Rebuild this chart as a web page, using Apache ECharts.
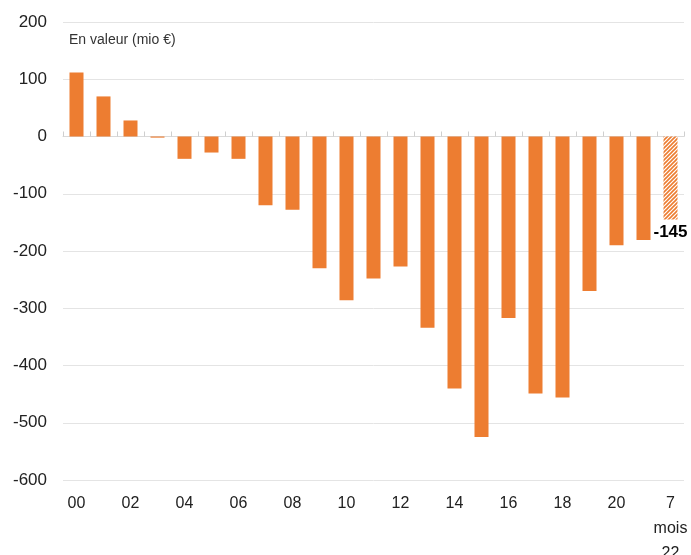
<!DOCTYPE html>
<html>
<head>
<meta charset="utf-8">
<script src="https://cdn.jsdelivr.net/npm/echarts@6/dist/echarts.min.js"></script>
<style>
  html, body { margin: 0; padding: 0; background: #fff; }
  #main { width: 691px; height: 555px; }
</style>
</head>
<body>
<div id="main"></div>
<script>
// années 2000 .. 2021, puis 7 mois 2022
var categories = ['00','01','02','03','04','05','06','07','08','09','10',
  '11','12','13','14','15','16','17','18','19','20','21','7\nmois\n22'];
var values = [112, 70, 28, -2, -39, -28, -39, -120, -128, -230, -286,
  -248, -227, -334, -440, -525, -317, -449, -456, -270, -190, -181, -145];
var yTicks = { min: -600, max: 200, step: 100 };
var unitLabel = 'En valeur (mio €)';

var orange = '#ED7D31';

// motif hachuré pour la dernière barre (7 mois 2022)
function hatch() {
  var c = document.createElement('canvas');
  c.width = 4; c.height = 4;
  var ctx = c.getContext('2d');
  ctx.fillStyle = '#fff';
  ctx.fillRect(0, 0, 4, 4);
  ctx.strokeStyle = orange;
  ctx.lineWidth = 1.6;
  ctx.beginPath();
  ctx.moveTo(-1, 5); ctx.lineTo(5, -1);
  ctx.moveTo(-1, 1); ctx.lineTo(1, -1);
  ctx.moveTo(3, 5); ctx.lineTo(5, 3);
  ctx.stroke();
  return c;
}

var last = values.length - 1;
var barData = values.map(function (v, i) {
  if (i !== last) return v;
  return {
    value: v,
    itemStyle: { color: { image: hatch(), repeat: 'repeat' } },
    label: {
      show: true,
      position: 'bottom',
      distance: 4,
      formatter: '{c}',
      color: '#000',
      fontWeight: 'bold',
      fontSize: 17,
      fontFamily: 'Liberation Sans'
    }
  };
});

var chart = echarts.init(document.getElementById('main'));
chart.setOption({
  animation: false,
  textStyle: { fontFamily: 'Liberation Sans' },
  title: {
    text: unitLabel,
    left: 64, top: 28,
    textStyle: { fontSize: 14, fontWeight: 'normal', color: '#333', fontFamily: 'Liberation Sans' }
  },
  grid: { left: 63, right: 7, top: 22, bottom: 75, containLabel: false, outerBoundsMode: 'none' },
  xAxis: [
    {
      type: 'category',
      data: categories,
      axisLine: { onZero: true, lineStyle: { color: '#d9d9d9', width: 1 } },
      axisTick: { show: true, inside: true, length: 5, interval: 0, lineStyle: { color: '#cfcfcf' } },
      axisLabel: { show: false }
    },
    {
      type: 'category',
      data: categories,
      position: 'bottom',
      axisLine: { show: false, onZero: false },
      axisTick: { show: false },
      axisLabel: {
        interval: function (i) { return i % 2 === 0; },
        margin: 11,
        fontSize: 16,
        lineHeight: 25,
        color: '#222'
      }
    }
  ],
  yAxis: {
    type: 'value',
    min: yTicks.min, max: yTicks.max, interval: yTicks.step,
    axisLine: { show: false },
    axisTick: { show: false },
    axisLabel: { margin: 16, fontSize: 17, color: '#222' },
    splitLine: { lineStyle: { color: '#e4e4e4' } }
  },
  series: [{
    type: 'bar',
    xAxisIndex: 0,
    barWidth: 14,
    itemStyle: { color: orange },
    data: barData
  }]
});
</script>
</body>
</html>
